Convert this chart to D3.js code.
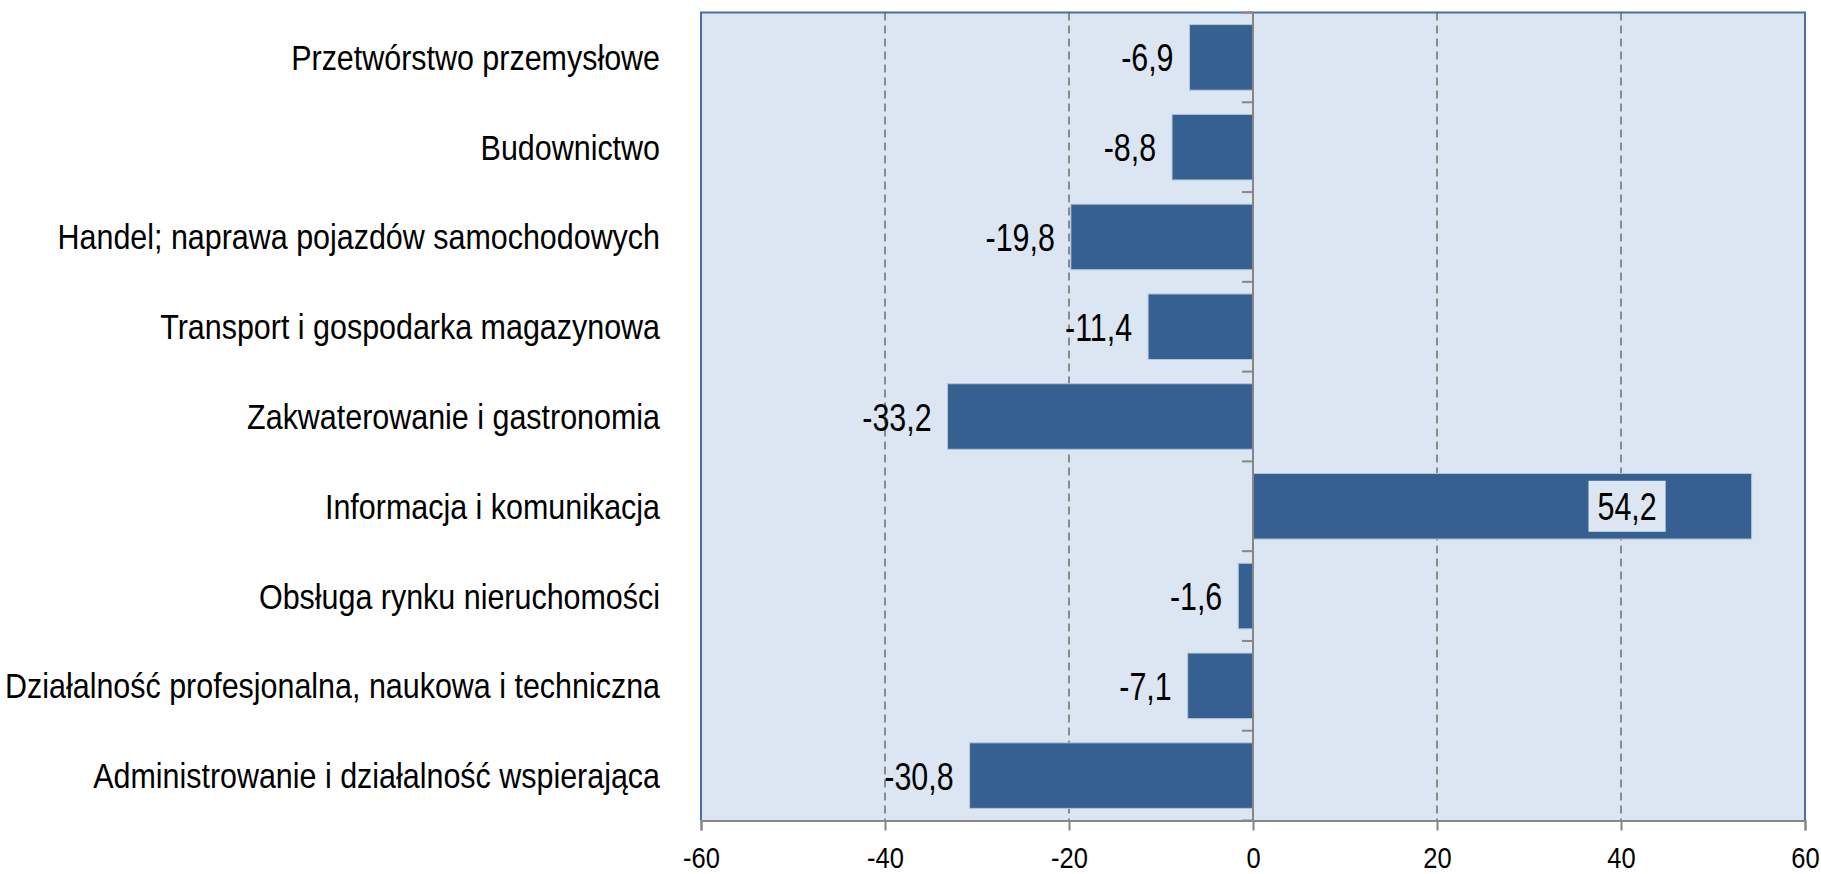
<!DOCTYPE html>
<html>
<head>
<meta charset="utf-8">
<script src="https://cdn.jsdelivr.net/npm/d3@7"></script>
<style>
  body { margin: 0; background: #fff; }
  text { font-family: "Liberation Sans", Arial, sans-serif; fill: #000; }
</style>
</head>
<body>
<div id="chart"></div>
<script>
// data
const categories = [
  'Przetwórstwo przemysłowe',
  'Budownictwo',
  'Handel; naprawa pojazdów samochodowych',
  'Transport i gospodarka magazynowa',
  'Zakwaterowanie i gastronomia',
  'Informacja i komunikacja',
  'Obsługa rynku nieruchomości',
  'Działalność profesjonalna, naukowa i techniczna',
  'Administrowanie i działalność wspierająca'
];
const values = [-6.9, -8.8, -19.8, -11.4, -33.2, 54.2, -1.6, -7.1, -30.8];
const xTicks = [-60, -40, -20, 0, 20, 40, 60];

const W = 1821, H = 874;
const plot = {left: 701, right: 1805, top: 12.5, bottom: 820.5};

const svg = d3.select('#chart')
    .append('svg')
    .attr('width', W)
    .attr('height', H);

const x = d3.scaleLinear()
    .domain([-60, 60])
    .range([plot.left, plot.right]);

const y = d3.scaleBand()
    .domain(categories)
    .range([plot.top, plot.bottom])
    .paddingInner(0.27)
    .paddingOuter(0.135);

const fmt = v => String(v).replace('.', ',');

// plot background
svg.append('rect')
    .attr('x', plot.left).attr('y', plot.top)
    .attr('width', plot.right - plot.left)
    .attr('height', plot.bottom - plot.top)
    .attr('fill', '#dce6f2');

// dashed gridlines (not at the edges or zero)
svg.append('g')
    .selectAll('line')
    .data(xTicks.filter(t => t !== 0 && t !== -60 && t !== 60))
    .enter().append('line')
    .attr('x1', d => x(d)).attr('x2', d => x(d))
    .attr('y1', plot.top).attr('y2', plot.bottom)
    .attr('stroke', '#8a8a8a')
    .attr('stroke-width', 2)
    .attr('stroke-dasharray', '8,5');

// plot border top/left/right
svg.append('path')
    .attr('d', `M${plot.left},${plot.bottom}V${plot.top}H${plot.right}V${plot.bottom}`)
    .attr('fill', 'none')
    .attr('stroke', '#4a6f9f')
    .attr('stroke-width', 2);

// bars
svg.append('g')
    .selectAll('rect')
    .data(values)
    .enter().append('rect')
    .attr('x', d => x(Math.min(0, d)))
    .attr('y', (d, i) => y(categories[i]))
    .attr('width', d => Math.abs(x(d) - x(0)))
    .attr('height', y.bandwidth())
    .attr('fill', '#366092')
    .attr('stroke', '#b4c4d8')
    .attr('stroke-width', 1);

// x axis at bottom
const xAxis = svg.append('g')
    .attr('transform', `translate(0, ${plot.bottom})`)
    .call(d3.axisBottom(x).tickValues(xTicks).tickSize(10).tickPadding(0).tickFormat(d => d));
xAxis.select('.domain').attr('stroke', '#868686').attr('stroke-width', 2);
xAxis.selectAll('.tick line').attr('stroke', '#868686').attr('stroke-width', 2);
xAxis.selectAll('.tick text')
    .attr('y', 0)
    .attr('dy', null)
    .attr('font-size', 29)
    .attr('transform', 'translate(0, 47.5) scale(0.88, 1)')
    .style('font-family', '"Liberation Sans", Arial, sans-serif')
    .attr('fill', '#000');

// vertical zero axis with ticks at category boundaries
const bounds = categories.map(c => y(c) - y.step() * y.paddingInner() / 2).concat([plot.bottom]);
const yAxis = svg.append('g');
yAxis.append('line')
    .attr('x1', x(0)).attr('x2', x(0))
    .attr('y1', plot.top).attr('y2', plot.bottom)
    .attr('stroke', '#868686')
    .attr('stroke-width', 2);
yAxis.selectAll('line.tk')
    .data(bounds)
    .enter().append('line')
    .attr('class', 'tk')
    .attr('x1', x(0) - 11).attr('x2', x(0))
    .attr('y1', d => d).attr('y2', d => d)
    .attr('stroke', '#868686')
    .attr('stroke-width', 2);

// category labels
svg.append('g')
    .selectAll('text')
    .data(categories)
    .enter().append('text')
    .attr('transform', d => `translate(660, ${y(d) + y.bandwidth() / 2 + 12.5}) scale(0.87, 1)`)
    .attr('text-anchor', 'end')
    .attr('font-size', 35)
    .text(d => d);

// value labels
const lbl = svg.append('g');
values.forEach((v, i) => {
    const cy = y(categories[i]) + y.bandwidth() / 2;
    if (v < 0) {
        lbl.append('text')
            .attr('transform', `translate(${x(v) - 16}, ${cy + 14}) scale(0.8, 1)`)
            .attr('text-anchor', 'end')
            .attr('font-size', 38)
            .text(fmt(v));
    } else {
        const tx = x(v) - 95;
        const t = lbl.append('text')
            .attr('transform', `translate(${tx}, ${cy + 14}) scale(0.8, 1)`)
            .attr('text-anchor', 'end')
            .attr('font-size', 38)
            .text(fmt(v));
        const bw = t.node().getBBox().width * 0.8;
        lbl.insert('rect', 'text')
            .attr('x', tx - bw - 9)
            .attr('y', cy - 25.5)
            .attr('width', bw + 18)
            .attr('height', 51)
            .attr('fill', '#dce6f2');
    }
});
</script>
</body>
</html>
